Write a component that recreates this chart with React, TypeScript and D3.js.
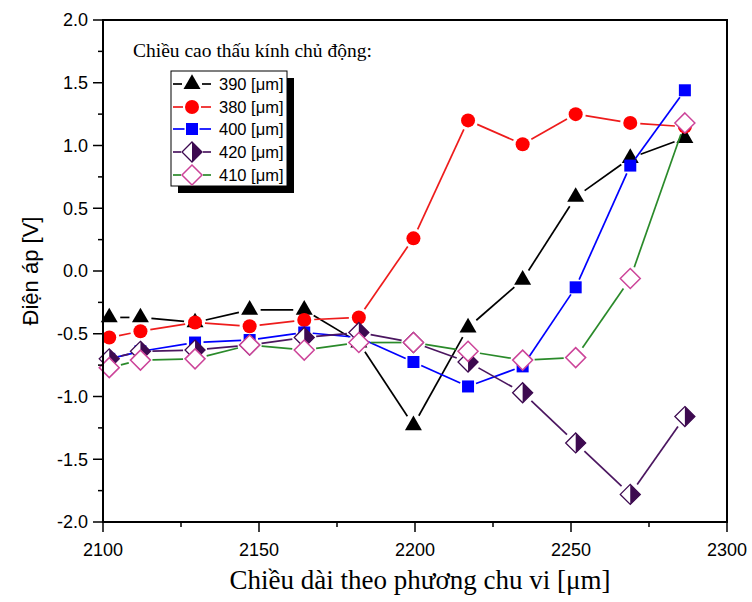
import React from "react";
import * as d3 from "d3";

const xValues = [2102, 2112, 2129.5, 2147, 2164.5, 2182, 2199.5, 2217, 2234.5, 2251.5, 2269, 2286.5];
const s390 = [-0.37, -0.37, -0.41, -0.31, -0.31, -0.57, -1.23, -0.45, -0.07, 0.59, 0.9, 1.06];
const s380 = [-0.53, -0.48, -0.41, -0.44, -0.39, -0.37, 0.26, 1.2, 1.01, 1.25, 1.18, 1.15];
const s400 = [-0.7, -0.64, -0.57, -0.55, -0.49, -0.53, -0.725, -0.92, -0.76, -0.13, 0.84, 1.44];
const s420 = [-0.7, -0.64, -0.63, -0.59, -0.53, -0.49, -0.57, -0.725, -0.97, -1.37, -1.78, -1.16];
const s410 = [-0.77, -0.71, -0.7, -0.59, -0.63, -0.57, -0.57, -0.64, -0.71, -0.69, -0.06, 1.18];

const seriesLabels = ["390 [\u03bcm]", "380 [\u03bcm]", "400 [\u03bcm]", "420 [\u03bcm]", "410 [\u03bcm]"];
const xTicks = [2100, 2150, 2200, 2250, 2300];
const xMinor = [2125, 2175, 2225, 2275];
const yTicks = [-2, -1.5, -1, -0.5, 0, 0.5, 1, 1.5, 2];
const yMinor = [-1.75, -1.25, -0.75, -0.25, 0.25, 0.75, 1.25, 1.75];
const legendTitle = "Chi\u1ec1u cao th\u1ea5u k\u00ednh ch\u1ee7 \u0111\u1ed9ng:";
const xTitle = "Chi\u1ec1u d\u00e0i theo ph\u01b0\u01a1ng chu vi [\u03bcm]";
const yTitle = "\u0110i\u1ec7n \u00e1p [V]";

const M = { left: 103, right: 727, top: 20, bottom: 522 };
const SANS = "'Liberation Sans', Arial, sans-serif";
const SERIF = "'Liberation Serif', 'Times New Roman', serif";

type Kind = "tri" | "circle" | "square" | "half" | "open";
const styles: { kind: Kind; line: string; mark: string; gap: number }[] = [
  { kind: "tri", line: "#000000", mark: "#000000", gap: 11 },
  { kind: "circle", line: "#ee1c1c", mark: "#ff0000", gap: 10 },
  { kind: "square", line: "#0000ff", mark: "#0000ff", gap: 8.5 },
  { kind: "half", line: "#4b1660", mark: "#3d0a50", gap: 12 },
  { kind: "open", line: "#2a8a2a", mark: "#cc4499", gap: 12 },
];

function Marker({ kind, x, y, color }: { kind: Kind; x: number; y: number; color: string }) {
  if (kind === "tri") {
    const p = d3.symbol().type(d3.symbolTriangle).size(125)()!;
    return <path d={p} transform={`translate(${x},${y})`} fill={color} />;
  }
  if (kind === "circle") return <circle cx={x} cy={y} r={7} fill={color} />;
  if (kind === "square") return <rect x={x - 6} y={y - 6} width={12} height={12} fill={color} />;
  const h = 10;
  const dia = `M${x},${y - h}L${x + h},${y}L${x},${y + h}L${x - h},${y}Z`;
  if (kind === "half") {
    const right = `M${x},${y - h}L${x + h},${y}L${x},${y + h}Z`;
    return (
      <g>
        <path d={dia} fill="#fff" stroke={color} strokeWidth={1.3} />
        <path d={right} fill={color} />
      </g>
    );
  }
  return <path d={dia} fill="#fff" stroke={color} strokeWidth={1.5} />;
}

function gapSegments(pts: [number, number][], gap: number) {
  const segs: [number, number, number, number][] = [];
  for (let i = 0; i < pts.length - 1; i++) {
    const [x1, y1] = pts[i];
    const [x2, y2] = pts[i + 1];
    const dx = x2 - x1, dy = y2 - y1;
    const len = Math.hypot(dx, dy);
    if (len <= 2 * gap) continue;
    const ux = dx / len, uy = dy / len;
    segs.push([x1 + ux * gap, y1 + uy * gap, x2 - ux * gap, y2 - uy * gap]);
  }
  return segs;
}

export default function App() {
  const x = d3.scaleLinear().domain([2100, 2300]).range([M.left, M.right]);
  const y = d3.scaleLinear().domain([-2, 2]).range([M.bottom, M.top]);
  const allSeries = [s390, s380, s400, s420, s410];

  const legend = { x: 171, y: 71, w: 116, h: 115 };
  const legendRows = [84, 107, 129, 152, 175];

  return (
    <svg width={752} height={602} style={{ position: "absolute", left: 0, top: 0, background: "#fff" }}>
      <rect x={0} y={0} width={752} height={602} fill="#fff" />
      {allSeries.map((vals, si) => {
        const st = styles[si];
        const pts = vals.map((v, i) => [x(xValues[i]), y(v)] as [number, number]);
        return (
          <g key={si}>
            {gapSegments(pts, st.gap).map((s, k) => (
              <line key={k} x1={s[0]} y1={s[1]} x2={s[2]} y2={s[3]} stroke={st.line} strokeWidth={1.7} />
            ))}
            {pts.map((p, k) => (
              <Marker key={k} kind={st.kind} x={p[0]} y={p[1]} color={st.mark} />
            ))}
          </g>
        );
      })}
      <rect x={M.left} y={M.top} width={M.right - M.left} height={M.bottom - M.top} fill="none" stroke="#000" strokeWidth={2} />
      {xTicks.map((t) => (
        <g key={t}>
          <line x1={x(t)} x2={x(t)} y1={M.bottom} y2={M.bottom + 10} stroke="#000" strokeWidth={1.5} />
          <text x={x(t)} y={556} textAnchor="middle" fontFamily={SANS} fontSize={18}>
            {t}
          </text>
        </g>
      ))}
      {xMinor.map((t) => (
        <line key={t} x1={x(t)} x2={x(t)} y1={M.bottom} y2={M.bottom + 5} stroke="#000" strokeWidth={1.5} />
      ))}
      {yTicks.map((t) => (
        <g key={t}>
          <line x1={M.left - 10} x2={M.left} y1={y(t)} y2={y(t)} stroke="#000" strokeWidth={1.5} />
          <text x={88} y={y(t)} dy="0.35em" textAnchor="end" fontFamily={SANS} fontSize={18}>
            {d3.format(".1f")(t).replace("\u2212", "-")}
          </text>
        </g>
      ))}
      {yMinor.map((t) => (
        <line key={t} x1={M.left - 5} x2={M.left} y1={y(t)} y2={y(t)} stroke="#000" strokeWidth={1.5} />
      ))}
      <text x={420} y={589} textAnchor="middle" fontFamily={SERIF} fontSize={27}>
        {xTitle}
      </text>
      <text transform="translate(38,271) rotate(-90)" textAnchor="middle" fontFamily={SANS} fontSize={22}>
        {yTitle}
      </text>
      <text x={133} y={57} fontFamily={SERIF} fontSize={19.5}>
        {legendTitle}
      </text>
      <rect x={legend.x + 7} y={legend.y + 7} width={legend.w} height={legend.h} fill="#000" />
      <rect x={legend.x} y={legend.y} width={legend.w} height={legend.h} fill="#fff" stroke="#000" strokeWidth={1} />
      {seriesLabels.map((lab, i) => {
        const st = styles[i];
        const cy = legendRows[i];
        const cx = 192;
        return (
          <g key={lab}>
            <line x1={173} x2={cx - st.gap + 1} y1={cy} y2={cy} stroke={st.line} strokeWidth={1.7} />
            <line x1={cx + st.gap - 1} x2={211} y1={cy} y2={cy} stroke={st.line} strokeWidth={1.7} />
            <Marker kind={st.kind} x={cx} y={cy} color={st.mark} />
            <text x={219} y={cy} dy="0.35em" fontFamily={SANS} fontSize={16.5}>
              {lab}
            </text>
          </g>
        );
      })}
    </svg>
  );
}
